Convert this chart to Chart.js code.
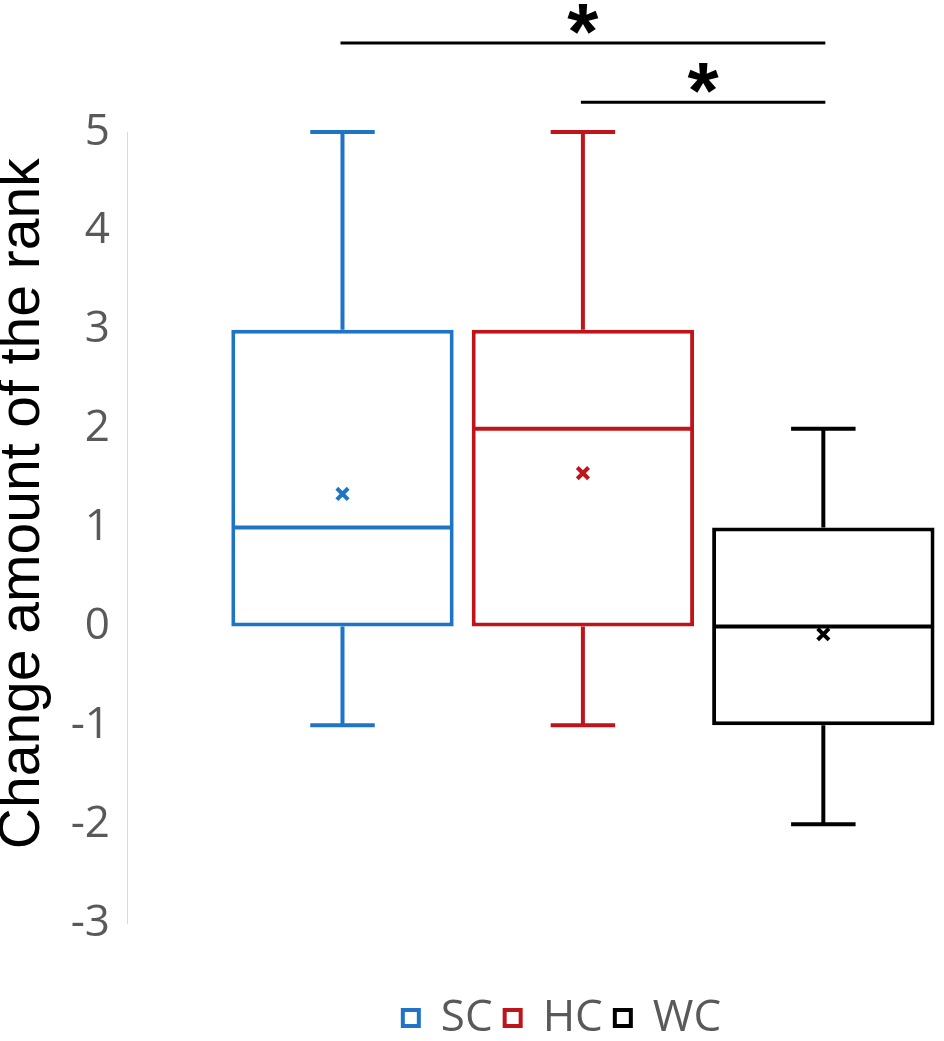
<!DOCTYPE html>
<html>
<head>
<meta charset="utf-8">
<script src="https://cdn.jsdelivr.net/npm/chart.js@4/dist/chart.umd.min.js"></script>
<style>
  html, body { margin: 0; padding: 0; background: #fff; overflow: hidden; }
  #wrap { width: 944px; height: 1041px; }
</style>
</head>
<body>
<div id="wrap"><canvas id="myChart"></canvas></div>
<script>
// box plot data
const groups = ['SC', 'HC', 'WC'];
const positions = [1, 2, 3];
const mins = [-1, -1, -2];
const q1s = [0, 0, -1];
const medians = [1, 2, 0];
const q3s = [3, 3, 1];
const maxs = [5, 5, 2];
const means = [1.34, 1.55, -0.08];
const colors = ['#1f74c6', '#c0141b', '#000000'];

// significance brackets: [from group, to group] and height in axis units
const sigPairs = [[0, 2], [1, 2]];
const sigLevels = [5.9, 5.3];

const yTicksMin = -3;
const yTicksMax = 5;

const boxDatasets = groups.map((g, i) => ({
  type: 'bar',
  label: g,
  data: [{ x: positions[i], y: [q1s[i], q3s[i]] }],
  backgroundColor: '#ffffff',
  borderColor: colors[i],
  borderWidth: 4,
  borderSkipped: false,
  grouped: false,
  categoryPercentage: 1,
  barPercentage: 0.925,
  clip: false,
  order: 1,
}));

const meanDatasets = groups.map((g, i) => ({
  type: 'line',
  label: g + ' mean',
  data: [{ x: positions[i], y: means[i] }],
  showLine: false,
  pointStyle: 'crossRot',
  pointRadius: 8,
  pointBorderWidth: 4,
  borderColor: colors[i],
  backgroundColor: colors[i],
  order: 0,
}));

// whiskers, medians and the significance bars
const boxExtras = {
  id: 'boxExtras',
  afterLayout(chart) {
    // legend sits a little right of the canvas centre in the original
    chart.legend.left += 90;
    chart.legend.right += 90;
  },
  afterDatasetsDraw(chart) {
    const { ctx } = chart;
    const y = chart.scales.y;
    ctx.save();
    ctx.lineCap = 'butt';

    groups.forEach((g, i) => {
      const bar = chart.getDatasetMeta(i).data[0];
      if (!bar) return;
      const cx = bar.x;
      const half = bar.width / 2;
      const cap = bar.width * 0.145;
      const yMax = y.getPixelForValue(maxs[i]);
      const yMin = y.getPixelForValue(mins[i]);
      const yQ3 = y.getPixelForValue(q3s[i]);
      const yQ1 = y.getPixelForValue(q1s[i]);
      const yMed = y.getPixelForValue(medians[i]);

      ctx.strokeStyle = colors[i];
      ctx.lineWidth = 4;
      ctx.beginPath();
      ctx.moveTo(cx, yQ3);
      ctx.lineTo(cx, yMax);
      ctx.moveTo(cx - cap, yMax);
      ctx.lineTo(cx + cap, yMax);
      ctx.moveTo(cx, yQ1);
      ctx.lineTo(cx, yMin);
      ctx.moveTo(cx - cap, yMin);
      ctx.lineTo(cx + cap, yMin);
      ctx.moveTo(cx - half + 2, yMed);
      ctx.lineTo(cx + half - 2, yMed);
      ctx.stroke();
    });

    ctx.strokeStyle = '#000000';
    ctx.fillStyle = '#000000';
    ctx.lineWidth = 3;
    ctx.font = 'bold 80px "Liberation Sans", Arial, sans-serif';
    ctx.textAlign = 'center';
    ctx.textBaseline = 'alphabetic';
    sigPairs.forEach((pair, k) => {
      const a = chart.getDatasetMeta(pair[0]).data[0];
      const b = chart.getDatasetMeta(pair[1]).data[0];
      const py = y.getPixelForValue(sigLevels[k]);
      ctx.beginPath();
      ctx.moveTo(a.x - 2, py);
      ctx.lineTo(b.x + 2, py);
      ctx.stroke();
      ctx.fillText('*', (a.x + b.x) / 2, py + 16);
    });

    ctx.restore();
  },
};

new Chart(document.getElementById('myChart'), {
  type: 'bar',
  data: { datasets: [...boxDatasets, ...meanDatasets] },
  options: {
    responsive: true,
    maintainAspectRatio: false,
    animation: false,
    layout: {
      padding: { top: 132, right: 0, bottom: -9, left: 0 },
    },
    plugins: {
      tooltip: { enabled: false },
      legend: {
        position: 'bottom',
        labels: {
          filter: (item, data) => data.datasets[item.datasetIndex].type === 'bar',
          color: '#595959',
          font: { family: '"Open Sans", sans-serif', size: 44 },
          boxWidth: 16,
          boxHeight: 16,
          padding: 12,
        },
      },
    },
    scales: {
      x: {
        type: 'linear',
        min: 0.1037,
        max: 3.452,
        offset: false,
        display: true,
        // one tick per box so the bar width follows the box spacing
        afterBuildTicks: (scale) => { scale.ticks = positions.map((v) => ({ value: v })); },
        ticks: { display: false },
        grid: { display: false, drawTicks: false },
        border: { display: false },
        afterFit: (scale) => { scale.height = 61; },
      },
      y: {
        min: yTicksMin,
        max: yTicksMax,
        ticks: {
          stepSize: 1,
          color: '#595959',
          padding: 17,
          font: { family: '"Open Sans", sans-serif', size: 44 },
        },
        grid: { display: false, drawTicks: false },
        border: { display: true, color: '#d9d9d9', width: 1 },
        title: {
          display: true,
          // leading spaces move the title up a little, as in the original
          text: '   Change amount of the rank',
          color: '#000000',
          padding: 0,
          font: { family: '"Liberation Sans", Arial, sans-serif', size: 57, lineHeight: 0.8 },
        },
        afterFit: (scale) => { scale.width = 127; },
      },
    },
  },
  plugins: [boxExtras],
});
</script>
</body>
</html>
